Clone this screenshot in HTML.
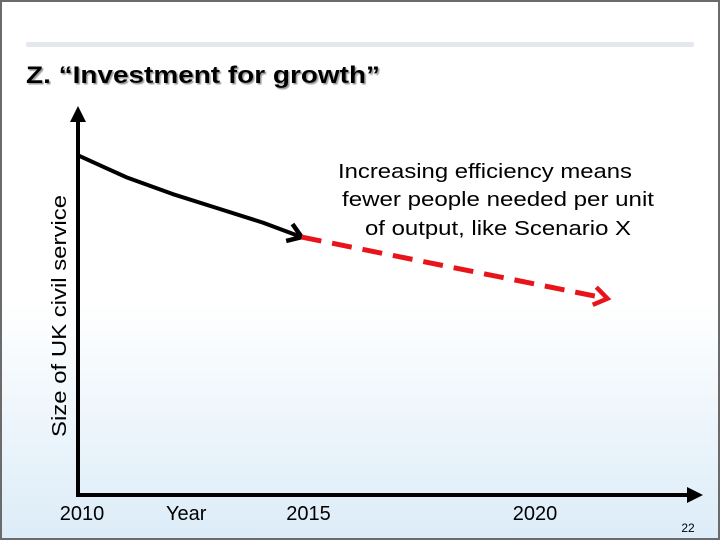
<!DOCTYPE html>
<html><head><meta charset="utf-8"><style>
html,body{margin:0;padding:0;background:#fff}
#slide{position:relative;width:716px;height:536px;border:2px solid #6b6b6b;overflow:hidden;font-family:"Liberation Sans",sans-serif;background:linear-gradient(to bottom,#ffffff 0px,#ffffff 300px,#dcecf8 536px)}
svg{position:absolute;left:-2px;top:-2px}
</style></head><body>
<div id="slide">
<svg id="chart" width="720" height="540">
  <defs>
    <filter id="sh"><feDropShadow dx="1.5" dy="1.5" stdDeviation="0.6" flood-color="#999"/></filter>
  </defs>
  <rect x="26" y="42" width="668" height="5" rx="2" fill="#e3e8ee"/>
  <text x="26" y="83" font-size="24" font-weight="bold" textLength="354" lengthAdjust="spacingAndGlyphs" filter="url(#sh)">Z. “Investment for growth”</text>
  <line x1="78" y1="497" x2="78" y2="118" stroke="#000" stroke-width="4"/>
  <path d="M70,122 L78,106 L86,122 Z" fill="#000"/>
  <line x1="76" y1="495" x2="690" y2="495" stroke="#000" stroke-width="4"/>
  <path d="M687,487 L703,495 L687,503 Z" fill="#000"/>
  <text transform="translate(66,316) rotate(-90)" text-anchor="middle" font-size="20" textLength="242" lengthAdjust="spacingAndGlyphs">Size of UK civil service</text>
  <g id="ticks"></g>
  <g id="series"></g>
  <g font-size="20" text-anchor="middle">
    <text x="485" y="178" textLength="294" lengthAdjust="spacingAndGlyphs">Increasing efficiency means</text>
    <text x="498" y="206" textLength="312" lengthAdjust="spacingAndGlyphs">fewer people needed per unit</text>
    <text x="498" y="235" textLength="266" lengthAdjust="spacingAndGlyphs">of output, like Scenario X</text>
  </g>
  <text x="688" y="532" font-size="12" text-anchor="middle">22</text>
</svg>
</div>
<script>
const tickLabels = ["2010", "Year", "2015", "2020"];
const tickYears = [2010, 2012.3, 2015, 2020];
const actualYears = [2009.9, 2010.5, 2011, 2012, 2013, 2014, 2014.85];
const actualValues = [89, 86, 83.5, 79.5, 76, 72.5, 69];
const projYears = [2014.85, 2021.6];
const projValues = [69, 54];
const ns = "http://www.w3.org/2000/svg";
function xs(yr){ return 82 + (yr - 2010) * 45.3; }
function ys(v){ return 520 - v * 4.1; }
const tg = document.getElementById('ticks');
tickLabels.forEach((l, i) => {
  const t = document.createElementNS(ns, 'text');
  t.setAttribute('x', xs(tickYears[i]));
  t.setAttribute('y', 520);
  t.setAttribute('font-size', 20);
  t.setAttribute('text-anchor', 'middle');
  t.textContent = l;
  
  
  tg.appendChild(t);
});
const sg = document.getElementById('series');
let d = '';
actualYears.forEach((yr, i) => {
  d += (i ? ' L' : 'M') + xs(yr) + ',' + ys(actualValues[i]);
});
const p = document.createElementNS(ns, 'path');
p.setAttribute('d', d);
p.setAttribute('fill', 'none');
p.setAttribute('stroke', '#000');
p.setAttribute('stroke-width', 4);
p.setAttribute('stroke-linejoin', 'round');


sg.appendChild(p);
function arrowHead(x1, y1, x2, y2, color, name) {
  const a = Math.atan2(y2 - y1, x2 - x1), L = 16, w = 0.6;
  const h = document.createElementNS(ns, 'path');
  h.setAttribute('d', 'M' + (x2 - L * Math.cos(a - w)) + ',' + (y2 - L * Math.sin(a - w)) + ' L' + x2 + ',' + y2 + ' L' + (x2 - L * Math.cos(a + w)) + ',' + (y2 - L * Math.sin(a + w)));
  h.setAttribute('fill', 'none');
  h.setAttribute('stroke', color);
  h.setAttribute('stroke-width', 4.5);
  
  
  sg.appendChild(h);
}
const n = actualYears.length;
arrowHead(xs(actualYears[n - 2]), ys(actualValues[n - 2]), xs(actualYears[n - 1]), ys(actualValues[n - 1]), '#000', 'actual-arrowhead');
const r = document.createElementNS(ns, 'line');
r.setAttribute('x1', xs(projYears[0]));
r.setAttribute('y1', ys(projValues[0]));
r.setAttribute('x2', xs(projYears[1]));
r.setAttribute('y2', ys(projValues[1]));
r.setAttribute('stroke', '#e8141a');
r.setAttribute('stroke-width', 5);
r.setAttribute('stroke-dasharray', '20 11');


sg.appendChild(r);
arrowHead(xs(projYears[0]), ys(projValues[0]), xs(projYears[1]), ys(projValues[1]), '#e8141a', 'projection-arrowhead');
</script>
</body></html>
